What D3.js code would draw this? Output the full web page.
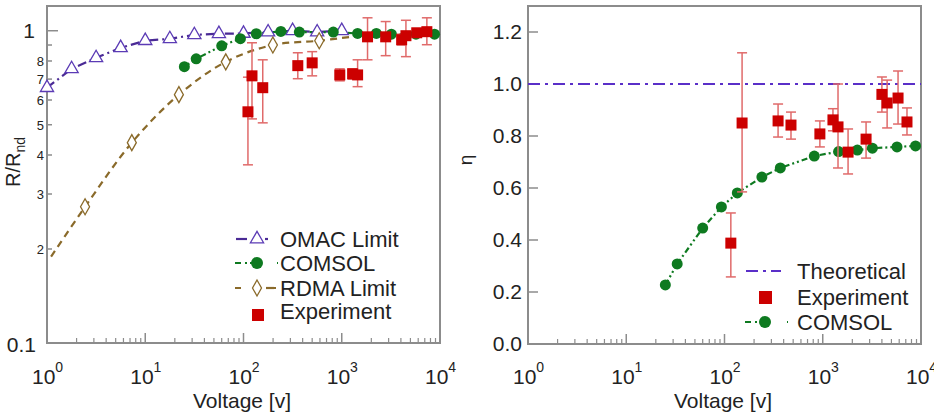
<!DOCTYPE html>
<html>
<head>
<meta charset="utf-8">
<script src="https://cdn.jsdelivr.net/npm/d3@7"></script>
<style>
  body { margin: 0; background: #fff; }
  text { font-family: "Liberation Sans", Arial, sans-serif; fill: #222; }
</style>
</head>
<body>
<div id="chart"></div>
<script>
// ---- datos ----
const omacV = [1, 1.78, 3.16, 5.62, 10, 17.8, 31.6, 56.2, 100, 178, 316, 562, 1000];
const omacR = [0.657, 0.755, 0.819, 0.882, 0.929, 0.942, 0.97, 0.978, 0.98, 0.99, 1.0, 0.99, 1.0];

const comsolV = [25, 33, 60, 93, 135, 240, 370, 820, 1450, 2250, 3200, 5700, 8800];
const comsolR = [0.767, 0.813, 0.895, 0.943, 0.978, 0.995, 0.99, 0.99, 0.98, 0.98, 0.975, 0.975, 0.975];
const comsolEta = [0.227, 0.308, 0.446, 0.527, 0.581, 0.642, 0.677, 0.723, 0.74, 0.746, 0.753, 0.758, 0.762];

const rdmaV = [1.1, 2.44, 7.3, 22, 66, 199, 590, 1200];
const rdmaR = [0.189, 0.273, 0.438, 0.624, 0.795, 0.90, 0.929, 0.955];
const rdmaMark = [0, 1, 1, 1, 1, 1, 1, 0];

const expLV = [111, 122, 157, 357, 500, 955, 1290, 1450, 1830, 2800, 4070, 4500, 5800, 7350];
const expLR = [0.550, 0.717, 0.657, 0.773, 0.789, 0.722, 0.728, 0.722, 0.956, 0.956, 0.936, 0.964, 0.985, 0.993];
const expLLo = [0.372, 0.522, 0.507, 0.702, 0.717, 0.691, 0.70, 0.662, 0.807, 0.832, 0.90, 0.826, 0.96, 0.902];
const expLHi = [0.71, 0.915, 0.807, 0.850, 0.857, 0.755, 0.755, 0.807, 1.10, 1.07, 0.975, 1.08, 1.01, 1.10];

const expRV = [116, 151, 351, 475, 935, 1270, 1430, 1810, 2760, 4000, 4520, 5840, 7200];
const expREta = [0.388, 0.85, 0.858, 0.842, 0.808, 0.862, 0.835, 0.738, 0.788, 0.96, 0.927, 0.946, 0.854];
const expRLo = [0.258, 0.585, 0.796, 0.788, 0.758, 0.82, 0.677, 0.654, 0.715, 0.892, 0.831, 0.846, 0.804];
const expRHi = [0.504, 1.12, 0.923, 0.892, 0.858, 0.905, 1.0, 0.827, 0.854, 1.027, 1.015, 1.05, 0.908];

const theoV = [1, 10000];
const theoEta = [1, 1];

const xDecades = [1, 10, 100, 1000, 10000];
const leftMinorLabels = [0.2, 0.3, 0.4, 0.5, 0.6, 0.7, 0.8];
const rightYTicks = [0, 0.2, 0.4, 0.6, 0.8, 1.0, 1.2];

// ---- colores ----
const cPurple = "#5b3bb5", cPurpleLine = "#4a2a95";
const cGreen = "#0e7a20";
const cBrown = "#8a6a2a";
const cRed = "#cc0000", cErr = "#e06a6a";
const cFrame = "#8c8c8c";

const svg = d3.select("#chart").append("svg")
    .attr("width", 934).attr("height", 414);

// ---- escalas ----
const xL = d3.scaleLog().domain([1, 1e4]).range([47, 440]);
const yL = d3.scaleLog().domain([0.1, 1.2]).range([343, 6]);
const xR = d3.scaleLog().domain([1, 1e4]).range([528, 921]);
const yR = d3.scaleLinear().domain([0, 1.3]).range([344, 6]);

function ejeX(x, yBase) {
    const g = svg.append("g");
    xDecades.forEach(d => {
        g.append("line").attr("x1", x(d)).attr("x2", x(d))
            .attr("y1", yBase).attr("y2", yBase - 10)
            .attr("stroke", cFrame).attr("stroke-width", 1.5);
        if (d < 1e4) {
            for (let k = 2; k <= 9; k++) {
                g.append("line").attr("x1", x(d * k)).attr("x2", x(d * k))
                    .attr("y1", yBase).attr("y2", yBase - 5)
                    .attr("stroke", cFrame).attr("stroke-width", 1.2);
            }
        }
        const t = g.append("text").attr("x", x(d) - 15).attr("y", 384)
            .style("font-size", "21px");
        t.append("tspan").text("10");
        t.append("tspan").attr("dy", -12).style("font-size", "14px").text(Math.round(Math.log10(d)));
    });
}

function marco(x, y) {
    svg.append("rect")
        .attr("x", x.range()[0]).attr("y", y.range()[1])
        .attr("width", x.range()[1] - x.range()[0])
        .attr("height", y.range()[0] - y.range()[1])
        .attr("fill", "none").attr("stroke", cFrame).attr("stroke-width", 2);
}

function errBars(x, y, vs, lo, hi) {
    vs.forEach((v, i) => {
        const cx = x(v);
        svg.append("line").attr("x1", cx).attr("x2", cx)
            .attr("y1", y(lo[i])).attr("y2", y(hi[i]))
            .attr("stroke", cErr).attr("stroke-width", 1.5);
        [lo[i], hi[i]].forEach(e => {
            svg.append("line").attr("x1", cx - 5).attr("x2", cx + 5)
                .attr("y1", y(e)).attr("y2", y(e))
                .attr("stroke", cErr).attr("stroke-width", 1.5);
        });
    });
}

function cuadrados(x, y, vs, ys) {
    svg.selectAll(null).data(vs).enter().append("rect")
        .attr("x", (d, i) => x(d) - 5.5).attr("y", (d, i) => y(ys[i]) - 5.5)
        .attr("width", 11).attr("height", 11)
        .attr("fill", cRed);
}

function circulos(x, y, vs, ys) {
    svg.selectAll(null).data(vs).enter().append("circle")
        .attr("cx", d => x(d)).attr("cy", (d, i) => y(ys[i]))
        .attr("r", 5.5).attr("fill", cGreen);
}

function linea(x, y, vs, ys, color, dash, curva) {
    const l = d3.line().x(d => x(d[0])).y(d => y(d[1]));
    if (curva) l.curve(d3.curveCatmullRom);
    svg.append("path").datum(vs.map((v, i) => [v, ys[i]]))
        .attr("d", l).attr("fill", "none")
        .attr("stroke", color).attr("stroke-width", 2.2)
        .attr("stroke-dasharray", dash);
}

const triangulo = d3.symbol().type(d3.symbolTriangle).size(75);
const diamante = "M0,-8L4.5,0L0,8L-4.5,0Z";

// ================= Grafico izquierdo =================
marco(xL, yL);
ejeX(xL, 343);

// eje Y log
[1, 0.9, 0.8, 0.7, 0.6, 0.5, 0.4, 0.3, 0.2].forEach(d => {
    svg.append("line").attr("x1", 47).attr("x2", d === 1 ? 58 : 52)
        .attr("y1", yL(d)).attr("y2", yL(d))
        .attr("stroke", cFrame).attr("stroke-width", 1.5);
});
svg.append("text").attr("x", 35).attr("y", yL(1) + 7).attr("text-anchor", "end")
    .style("font-size", "21px").text("1");
svg.append("text").attr("x", 36).attr("y", 352).attr("text-anchor", "end")
    .style("font-size", "21px").text("0.1");
leftMinorLabels.forEach(d => {
    svg.append("text").attr("x", 44).attr("y", yL(d) + 5).attr("text-anchor", "end")
        .style("font-size", "13px").text(Math.round(d * 10));
});

// titulo eje Y
const yLab = svg.append("text").attr("transform", "translate(20,162) rotate(-90)")
    .attr("text-anchor", "middle").style("font-size", "20px");
yLab.append("tspan").text("R/R");
yLab.append("tspan").attr("dy", 5).style("font-size", "14px").text("nd");

svg.append("text").attr("x", 242).attr("y", 408).attr("text-anchor", "middle")
    .style("font-size", "21px").text("Voltage [v]");

// lineas
linea(xL, yL, rdmaV, rdmaR, cBrown, "7,5", true);
linea(xL, yL, omacV, omacR, cPurpleLine, "9,4,2,4", false);
linea(xL, yL, comsolV, comsolR, cGreen, "6,3,2,3,2,3", false);

// marcadores
svg.selectAll(null).data(omacV).enter().append("path")
    .attr("d", triangulo)
    .attr("transform", (d, i) => `translate(${xL(d)},${yL(omacR[i])})`)
    .attr("fill", "white").attr("stroke", cPurple).attr("stroke-width", 1.3);

svg.selectAll(null).data(rdmaV.filter((d, i) => rdmaMark[i])).enter().append("path")
    .attr("d", diamante)
    .attr("transform", d => `translate(${xL(d)},${yL(rdmaR[rdmaV.indexOf(d)])})`)
    .attr("fill", "white").attr("stroke", cBrown).attr("stroke-width", 1.3);

circulos(xL, yL, comsolV, comsolR);
errBars(xL, yL, expLV, expLLo, expLHi);
cuadrados(xL, yL, expLV, expLR);

// leyenda izquierda
const legL = svg.append("g");
const legLItems = [
    { label: "OMAC Limit", y: 239 },
    { label: "COMSOL", y: 263 },
    { label: "RDMA Limit", y: 288 },
    { label: "Experiment", y: 311 }
];
legLItems.forEach(it => {
    legL.append("text").attr("x", 280).attr("y", it.y + 8)
        .style("font-size", "22px").text(it.label);
});
legL.append("line").attr("x1", 236).attr("x2", 247).attr("y1", 239).attr("y2", 239)
    .attr("stroke", cPurpleLine).attr("stroke-width", 2.2);
legL.append("line").attr("x1", 265).attr("x2", 268).attr("y1", 239).attr("y2", 239)
    .attr("stroke", cPurpleLine).attr("stroke-width", 2.2);
legL.append("path").attr("d", triangulo).attr("transform", "translate(257,239)")
    .attr("fill", "white").attr("stroke", cPurple).attr("stroke-width", 1.3);
legL.append("line").attr("x1", 235).attr("x2", 278).attr("y1", 263).attr("y2", 263)
    .attr("stroke", cGreen).attr("stroke-width", 2.2).attr("stroke-dasharray", "6,4,2,3,2,3,2,20");
legL.append("circle").attr("cx", 257).attr("cy", 263).attr("r", 6).attr("fill", cGreen);
legL.append("line").attr("x1", 235).attr("x2", 276).attr("y1", 288).attr("y2", 288)
    .attr("stroke", cBrown).attr("stroke-width", 2.2).attr("stroke-dasharray", "6,30");
legL.append("line").attr("x1", 266).attr("x2", 274).attr("y1", 288).attr("y2", 288)
    .attr("stroke", cBrown).attr("stroke-width", 2.2);
legL.append("path").attr("d", diamante).attr("transform", "translate(257,288)")
    .attr("fill", "white").attr("stroke", cBrown).attr("stroke-width", 1.3);
legL.append("rect").attr("x", 252).attr("y", 309).attr("width", 12).attr("height", 12).attr("fill", cRed);

// ================= Grafico derecho =================
marco(xR, yR);
ejeX(xR, 344);

rightYTicks.forEach(d => {
    svg.append("line").attr("x1", 528).attr("x2", 538)
        .attr("y1", yR(d)).attr("y2", yR(d))
        .attr("stroke", cFrame).attr("stroke-width", 1.5);
    svg.append("text").attr("x", 522).attr("y", yR(d) + 7).attr("text-anchor", "end")
        .style("font-size", "21px").text(d.toFixed(1));
});

svg.append("text").attr("transform", "translate(472,160) rotate(-90)")
    .attr("text-anchor", "middle").style("font-size", "19px").text("η");

svg.append("text").attr("x", 723).attr("y", 408).attr("text-anchor", "middle")
    .style("font-size", "21px").text("Voltage [v]");

linea(xR, yR, theoV, theoEta, "#5a2fc8", "12,5,3,5", false);
linea(xR, yR, comsolV, comsolEta, cGreen, "6,3,2,3,2,3", false);
circulos(xR, yR, comsolV, comsolEta);
errBars(xR, yR, expRV, expRLo, expRHi);
cuadrados(xR, yR, expRV, expREta);

// leyenda derecha
const legR = svg.append("g");
[{ label: "Theoretical", y: 271 }, { label: "Experiment", y: 297 }, { label: "COMSOL", y: 322 }]
    .forEach(it => {
        legR.append("text").attr("x", 797).attr("y", it.y + 8)
            .style("font-size", "22px").text(it.label);
    });
legR.append("line").attr("x1", 746).attr("x2", 781).attr("y1", 271).attr("y2", 271)
    .attr("stroke", "#5a2fc8").attr("stroke-width", 2.2).attr("stroke-dasharray", "12,5,3,5");
legR.append("rect").attr("x", 759).attr("y", 291).attr("width", 13).attr("height", 13).attr("fill", cRed);
legR.append("line").attr("x1", 745).attr("x2", 788).attr("y1", 322).attr("y2", 322)
    .attr("stroke", cGreen).attr("stroke-width", 2.2).attr("stroke-dasharray", "6,4,2,3,2,3,2,20");
legR.append("circle").attr("cx", 765).attr("cy", 322).attr("r", 6).attr("fill", cGreen);
</script>
</body>
</html>
